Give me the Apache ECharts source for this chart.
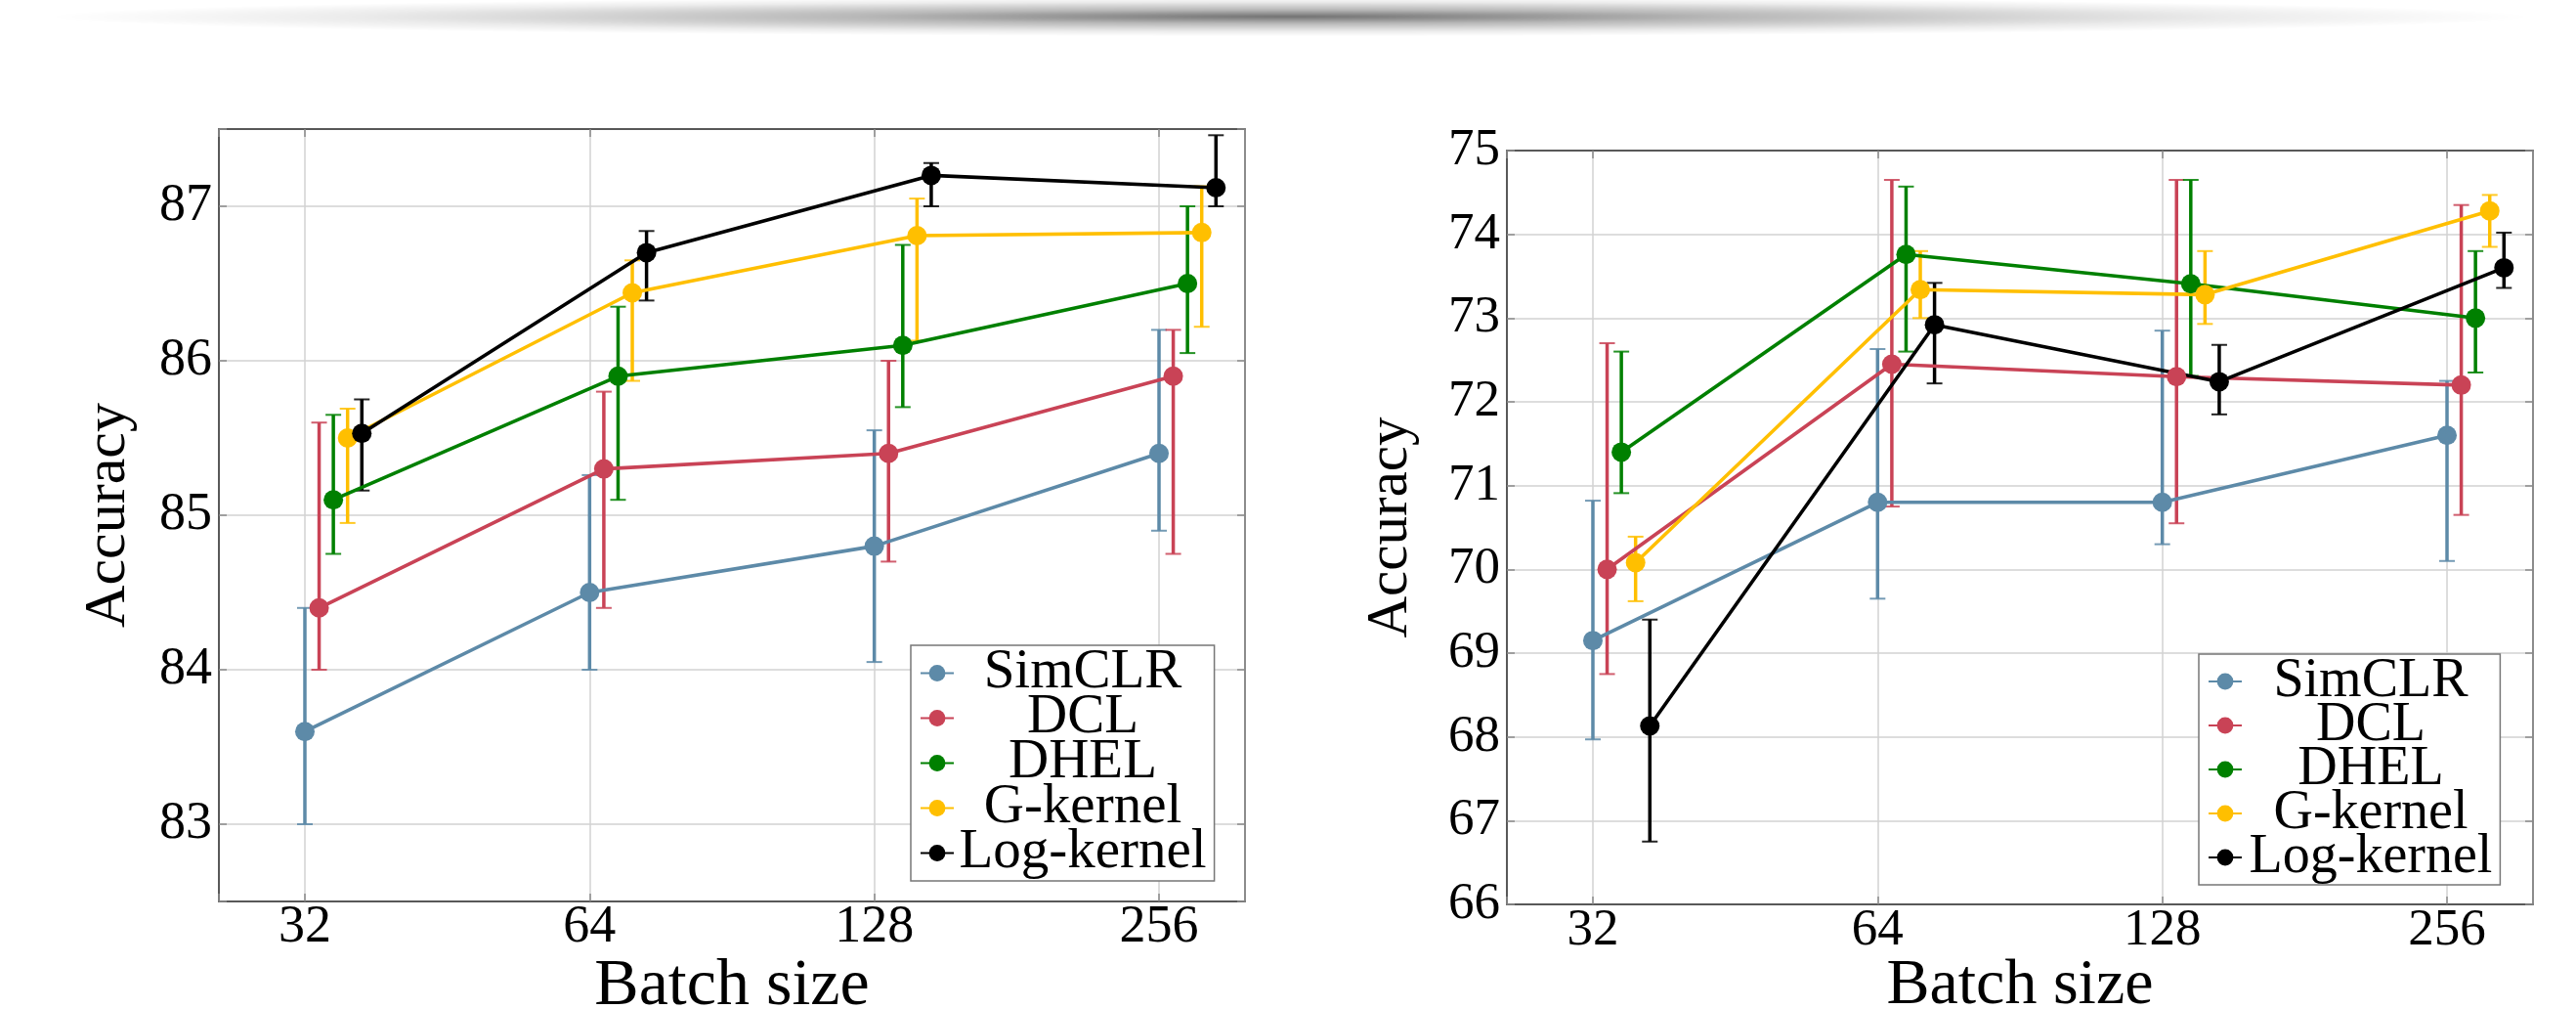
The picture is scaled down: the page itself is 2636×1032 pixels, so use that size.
<!DOCTYPE html>
<html>
<head>
<meta charset="utf-8">
<script src="https://cdn.jsdelivr.net/npm/echarts@6/dist/echarts.min.js"></script>
<style>
html, body { margin: 0; padding: 0; background: #ffffff; overflow: hidden; }
#chart { position: absolute; left: 0; top: 0; width: 2636px; height: 1032px; }
#shade { position: absolute; left: 50px; top: -3px; width: 2540px; height: 40px; pointer-events: none;
  background: radial-gradient(ellipse closest-side at 50% 50%, rgba(0,0,0,0.55) 0%, rgba(0,0,0,0.28) 35%, rgba(0,0,0,0.08) 75%, rgba(0,0,0,0) 100%); }
</style>
</head>
<body>
<div id="chart"></div>
<div id="shade"></div>
<script>
// ---------------- data ----------------
const batchSizes = [32, 64, 128, 256];
const xTickLabels = ['32', '64', '128', '256'];
const methods = ['SimCLR', 'DCL', 'DHEL', 'G-kernel', 'Log-kernel'];
const methodColors = ['#5D8AA8', '#C94356', '#008000', '#FFBF00', '#000000'];

// Left panel (rows follow `methods`, columns follow `batchSizes`)
const leftMean = [
  [83.60, 84.50, 84.80, 85.40],
  [84.40, 85.30, 85.40, 85.90],
  [85.10, 85.90, 86.10, 86.50],
  [85.50, 86.44, 86.81, 86.83],
  [85.53, 86.70, 87.20, 87.12]
];
const leftLow = [
  [83.00, 84.00, 84.05, 84.90],
  [84.00, 84.40, 84.70, 84.75],
  [84.75, 85.10, 85.70, 86.05],
  [84.95, 85.87, 86.13, 86.22],
  [85.16, 86.39, 87.00, 87.00]
];
const leftHigh = [
  [84.40, 85.26, 85.55, 86.20],
  [85.60, 85.80, 86.00, 86.20],
  [85.65, 86.35, 86.75, 87.00],
  [85.69, 86.65, 87.05, 87.13],
  [85.75, 86.84, 87.28, 87.46]
];

// Right panel
const rightMean = [
  [69.15, 70.80, 70.80, 71.60],
  [70.00, 72.45, 72.30, 72.20],
  [71.40, 73.76, 73.41, 73.00],
  [70.08, 73.34, 73.28, 74.28],
  [68.13, 72.92, 72.24, 73.60]
];
const rightLow = [
  [67.97, 69.65, 70.30, 70.10],
  [68.75, 70.75, 70.55, 70.65],
  [70.91, 72.60, 72.31, 72.35],
  [69.62, 73.00, 72.93, 73.85],
  [66.75, 72.22, 71.85, 73.36]
];
const rightHigh = [
  [70.82, 72.63, 72.85, 72.25],
  [72.70, 74.65, 74.65, 74.35],
  [72.60, 74.57, 74.65, 73.80],
  [70.39, 73.80, 73.80, 74.47],
  [69.40, 73.42, 72.68, 74.02]
];

// ---------------- chart ----------------
const FONT = '"Liberation Serif", "Times New Roman", serif';
const DODGE = 0.05;     // horizontal dodge per method (log2 units)
const XPAD = 0.302;     // axis padding beyond 32 and 256 (log2 units)

const panels = [
  { grid: { left: 224, top: 132, width: 1050, height: 790 }, yMin: 82.5, yMax: 87.5, yInterval: null,
    mean: leftMean, low: leftLow, high: leftHigh, fs: 1.0,
    xNameGap: 62, yNameGap: 88, legendPos: { left: 932, top: 660 }, legendRow: 46 },
  { grid: { left: 1542, top: 154, width: 1050, height: 771 }, yMin: 66, yMax: 75, yInterval: 1,
    mean: rightMean, low: rightLow, high: rightHigh, fs: 0.975,
    xNameGap: 59, yNameGap: 94, legendPos: { left: 2250, top: 669 }, legendRow: 45 }
];

const xMin = Math.log2(batchSizes[0]) - XPAD;
const xMax = Math.log2(batchSizes[batchSizes.length - 1]) + XPAD;

function xLabel(v) {
  const idx = batchSizes.indexOf(Math.round(Math.pow(2, v)));
  return (Math.abs(v - Math.round(v)) < 1e-6 && idx >= 0) ? xTickLabels[idx] : '';
}
function yLabel(v) {
  return Math.abs(v - Math.round(v)) < 1e-6 ? String(Math.round(v)) : '';
}

const grids = [], xAxes = [], yAxes = [], legends = [], series = [];
const tickStyle = { show: true, inside: true, length: 8, lineStyle: { color: '#8a8a8a', width: 1.5 } };
const splitStyle = { show: true, showMinLine: false, showMaxLine: false, lineStyle: { color: '#d2d2d2', width: 1.5 } };

panels.forEach((p, pi) => {
  const tickFs = Math.round(54 * p.fs);
  const yNameFs = Math.round(60 * p.fs);
  const xNameFs = Math.round(68 * p.fs);
  const legFs = Math.round(57 * p.fs);
  grids.push(Object.assign({ show: false, containLabel: false, outerBoundsMode: 'none' }, p.grid));

  // bottom x axis
  xAxes.push({
    type: 'value', gridIndex: pi, position: 'bottom', min: xMin, max: xMax, splitNumber: 4,
    axisLine: { show: true, onZero: false, lineStyle: { color: '#222', width: 1.5 } },
    axisTick: tickStyle,
    axisLabel: { formatter: xLabel, fontFamily: FONT, fontSize: tickFs, color: '#000', margin: 7, lineHeight: 40 },
    splitLine: splitStyle,
    name: 'Batch size', nameLocation: 'middle', nameGap: p.xNameGap, nameMoveOverlap: false,
    nameTextStyle: { fontFamily: FONT, fontSize: xNameFs, color: '#000', lineHeight: 50 }
  });
  // top x axis (frame + ticks)
  xAxes.push({
    type: 'value', gridIndex: pi, position: 'top', min: xMin, max: xMax, splitNumber: 4,
    axisLine: { show: true, onZero: false, lineStyle: { color: '#222', width: 1.5 } },
    axisTick: tickStyle, axisLabel: { show: false }, splitLine: { show: false }
  });
  // left y axis
  const ly = {
    type: 'value', gridIndex: pi, position: 'left', min: p.yMin, max: p.yMax,
    axisLine: { show: true, onZero: false, lineStyle: { color: '#222', width: 1.5 } },
    axisTick: tickStyle,
    axisLabel: { formatter: yLabel, fontFamily: FONT, fontSize: tickFs, color: '#000', margin: 7 },
    splitLine: splitStyle,
    name: 'Accuracy', nameLocation: 'middle', nameRotate: 90, nameGap: p.yNameGap,
    nameTextStyle: { fontFamily: FONT, fontSize: yNameFs, color: '#000', lineHeight: 50 }
  };
  if (p.yInterval) ly.interval = p.yInterval;
  yAxes.push(ly);
  // right y axis (frame + ticks)
  const ry = {
    type: 'value', gridIndex: pi, position: 'right', min: p.yMin, max: p.yMax,
    axisLine: { show: true, onZero: false, lineStyle: { color: '#666', width: 1.5 } },
    axisTick: tickStyle, axisLabel: { show: false }, splitLine: { show: false }
  };
  if (p.yInterval) ry.interval = p.yInterval;
  yAxes.push(ry);

  legends.push({
    data: methods, orient: 'vertical', left: p.legendPos.left, top: p.legendPos.top,
    itemWidth: 34, itemHeight: 21, itemGap: p.legendRow - legFs, padding: [0, 8, 0, 9],
    backgroundColor: '#ffffff', borderColor: '#777', borderWidth: 1.5, borderRadius: 0,
    selectedMode: false,
    formatter: '{a|{name}}',
    textStyle: {
      fontFamily: FONT, fontSize: legFs, color: '#000',
      rich: { a: { width: 254, align: 'center', fontFamily: FONT, fontSize: legFs, color: '#000' } }
    }
  });

  methods.forEach((m, mi) => {
    const color = methodColors[mi];
    const xs = batchSizes.map(b => Math.log2(b) + mi * DODGE);
    series.push({
      type: 'custom', name: m + ' error', xAxisIndex: pi * 2, yAxisIndex: pi * 2,
      data: xs.map((x, k) => [x, p.low[mi][k], p.high[mi][k]]),
      encode: { x: 0, y: [1, 2] },
      silent: true,
      renderItem: function (params, api) {
        const x = api.value(0);
        const a = api.coord([x, api.value(1)]);
        const b = api.coord([x, api.value(2)]);
        const cw = 8;
        return {
          type: 'group',
          children: [
            { type: 'line', shape: { x1: a[0], y1: a[1], x2: b[0], y2: b[1] }, style: { stroke: color, lineWidth: 3.5 } },
            { type: 'line', shape: { x1: a[0] - cw, y1: a[1], x2: a[0] + cw, y2: a[1] }, style: { stroke: color, lineWidth: 2, opacity: 0.85 } },
            { type: 'line', shape: { x1: b[0] - cw, y1: b[1], x2: b[0] + cw, y2: b[1] }, style: { stroke: color, lineWidth: 2, opacity: 0.85 } }
          ]
        };
      }
    });
    series.push({
      type: 'line', name: m, xAxisIndex: pi * 2, yAxisIndex: pi * 2,
      data: xs.map((x, k) => [x, p.mean[mi][k]]),
      symbol: 'circle', symbolSize: 20, showSymbol: true,
      lineStyle: { color: color, width: 3.6 },
      itemStyle: { color: color },
      emphasis: { disabled: true }
    });
  });
});

const chart = echarts.init(document.getElementById('chart'), null, { renderer: 'canvas', width: 2636, height: 1032 });
chart.setOption({
  backgroundColor: '#ffffff',
  animation: false,
  textStyle: { fontFamily: FONT },
  grid: grids,
  xAxis: xAxes,
  yAxis: yAxes,
  legend: legends,
  series: series
});
</script>
</body>
</html>
